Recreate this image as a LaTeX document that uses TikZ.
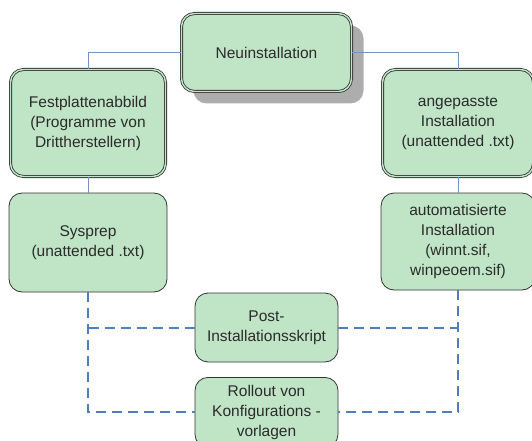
\documentclass[tikz,border=0pt]{standalone}
\usepackage{fontspec}
\setmainfont{Liberation Sans}
\usepackage{xcolor}
\usepackage{tikz}
\usetikzlibrary{positioning, calc, shadows}
\definecolor{mint}{HTML}{C0E4C6}
\definecolor{edge}{HTML}{333333}
\definecolor{ink}{HTML}{2B2B2B}
\definecolor{linkblue}{HTML}{4F7DBE}
\definecolor{thinblue}{HTML}{7393C4}

\begin{document}
\begin{tikzpicture}[
  x=1pt, y=-1pt,
  font=\fontsize{15.5}{20}\selectfont,
  every node/.style={align=center, text=ink},
  box/.style={rectangle, rounded corners=13pt, draw=edge, line width=0.8pt,
              fill=mint, inner sep=2pt},
  dbox/.style={box, double=mint, double distance=1.4pt},
  link/.style={draw=thinblue, line width=0.8pt},
  dlink/.style={draw=linkblue, line width=2pt, dash pattern=on 10pt off 6pt}
]
\useasboundingbox (0,0) rectangle (532,441);
\node[dbox, minimum width=170pt, minimum height=78pt,
      drop shadow={shadow xshift=12pt, shadow yshift=-12pt, fill=black!32, opacity=1}]
  (neu) at (266.5,52.5) {Neuinstallation};
\node[dbox, minimum width=155pt, minimum height=107pt] (fest) at (88,123)
  {Festplattenabbild\\(Programme von\\Drittherstellern)};
\node[dbox, minimum width=151pt, minimum height=107pt] (ange) at (458,123)
  {angepasste\\Installation\\(unattended .txt)};
\node[box, minimum width=158pt, minimum height=99pt] (sys) at (88,242.5)
  {Sysprep\\(unattended .txt)};
\node[box, minimum width=154pt, minimum height=97pt] (auto) at (458,241.5)
  {automatisierte\\Installation\\(winnt.sif,\\winpeoem.sif)};
\node[box, minimum width=143pt, minimum height=69pt] (post) at (266.5,327.5)
  {Post-\\Installationsskript};
\node[box, minimum width=143pt, minimum height=70pt, anchor=north] (roll) at (266.5,377)
  {Rollout von\\Konfigurations -\\vorlagen};
% Neuinstallation -> both branches
\draw[link] (neu.west) -| (fest.north);
\draw[link] (neu.east) -| (ange.north);
\draw[link] (fest.south) -- (sys.north);
\draw[link] (ange.south) -- (auto.north);
% dashed frame round the scripts
\draw[dlink] (sys.south) |- (roll.west |- 0,412);
\draw[dlink] (auto.south) |- (roll.east |- 0,412);
\draw[dlink] (post.west) -- (post.west -| sys.south);
\draw[dlink] (post.east) -- (post.east -| auto.south);
\end{tikzpicture}
\end{document}
